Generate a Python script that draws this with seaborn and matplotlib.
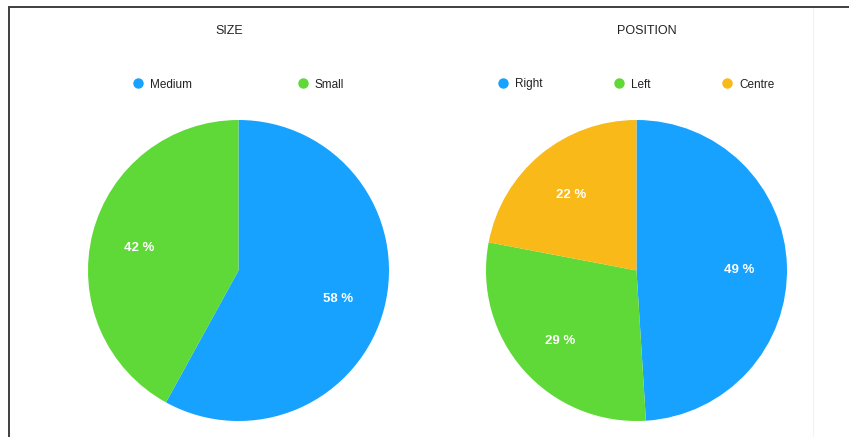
import matplotlib
matplotlib.use("Agg")
import matplotlib.pyplot as plt
from matplotlib.lines import Line2D
from matplotlib.transforms import ScaledTranslation
import seaborn as sns

sns.set_theme(style="white")
plt.rcParams["font.family"] = ["Liberation Sans", "DejaVu Sans"]

# Data
size_labels = ["Medium", "Small"]
size_values = [58, 42]
position_labels = ["Right", "Left", "Centre"]
position_values = [49, 29, 22]

blue, green, orange = "#16A2FE", "#5FD937", "#F8B919"
size_colors = [blue, green]
position_colors = [blue, green, orange]

W, H = 849, 437
fig = plt.figure(figsize=(W / 100, H / 100), dpi=100)
fig.patch.set_facecolor("white")

# Frame lines along the top and left edges
fig.add_artist(Line2D([8.5 / W, 8.5 / W], [0, 1 - 6.5 / H], transform=fig.transFigure,
                      color="#3f3f3f", lw=1.4))
fig.add_artist(Line2D([8.5 / W, 1], [1 - 6.5 / H, 1 - 6.5 / H], transform=fig.transFigure,
                      color="#3f3f3f", lw=1.4))
fig.add_artist(Line2D([813 / W, 813 / W], [0, 1 - 8 / H], transform=fig.transFigure,
                      color="#f3f3f3", lw=0.8))


def draw_pie(cx, title, title_x, labels, values, colors, colspacing):
    r = 150.5
    cy = 270.5
    ax = fig.add_axes([(cx - r) / W, (H - cy - r) / H, 2 * r / W, 2 * r / H])
    wedges, texts, autotexts = ax.pie(
        values, colors=colors, startangle=90, counterclock=False,
        autopct=lambda p: f"{p:.0f} %", pctdistance=0.68,
        wedgeprops=dict(linewidth=0),
        textprops=dict(color="white", fontsize=9.5, fontweight="bold"),
    )
    nudge = ScaledTranslation(0, -3 / 100, fig.dpi_scale_trans)
    for t in autotexts:
        t.set_transform(ax.transData + nudge)
    ax.set_xlim(-1, 1)
    ax.set_ylim(-1, 1)
    ax.set_aspect("equal")
    ax.axis("off")

    fig.text(title_x / W, 1 - 31 / H, title, ha="center", va="center",
             fontsize=9, color="#222222")

    handles = [Line2D([], [], marker="o", linestyle="none", markersize=7.5,
                      markerfacecolor=c, markeredgecolor="none") for c in colors]
    fig.legend(handles, labels, loc="center", ncol=len(labels),
               bbox_to_anchor=(cx / W, 1 - 84.5 / H), frameon=False,
               fontsize=8.5, handlelength=0.8, handletextpad=0.62,
               columnspacing=colspacing, labelcolor="#222222")
    return ax


draw_pie(238.5, "SIZE", 229.5, size_labels, size_values, size_colors, 9.0)
draw_pie(636.5, "POSITION", 647, position_labels, position_values, position_colors, 6.1)

fig.savefig("out.png", dpi=100, facecolor="white")
